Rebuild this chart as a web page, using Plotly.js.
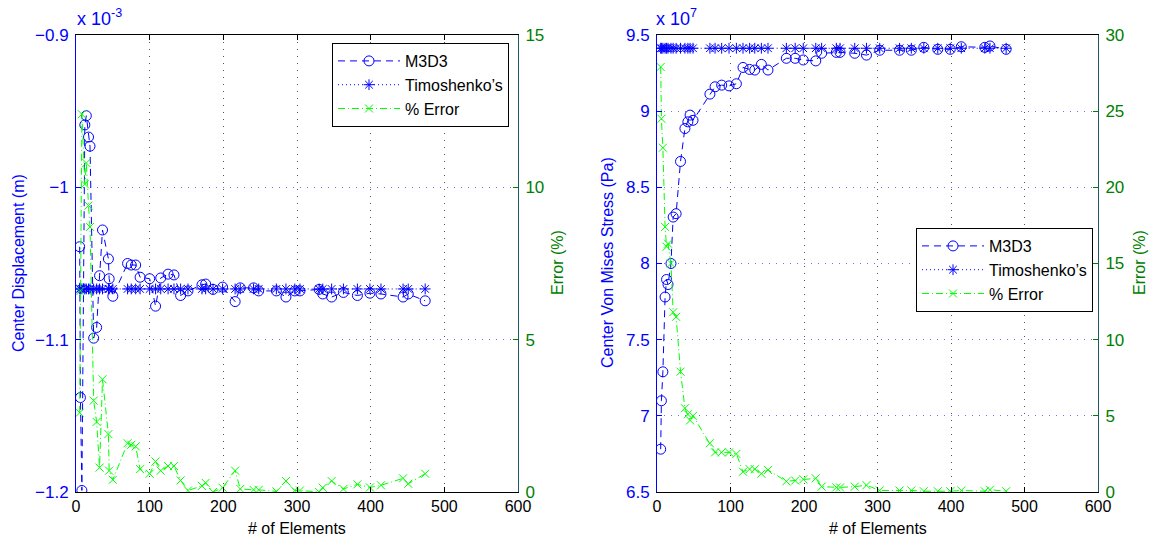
<!DOCTYPE html>
<html>
<head>
<meta charset="utf-8">
<script src="https://cdn.plot.ly/plotly-3.0.1.min.js"></script>
<style>html,body{margin:0;padding:0;background:#fff}#chart{width:1153px;height:542px}</style>
</head>
<body>
<div id="chart"></div>
<script>
// ---- Left panel: center displacement (x 1e-3 m) ----
const leftElems = [5, 6, 8, 12, 14, 17, 19, 24, 28, 32, 36, 44, 45, 50, 70, 75, 81, 87, 100, 108, 115, 125, 133, 142, 152, 171, 176, 186, 199, 216, 223, 241, 248, 272, 285, 297, 304, 330, 335, 347, 363, 382, 399, 414, 444, 451, 474];
const leftM3D3 = [-1.039, -1.138, -1.199, -0.959, -0.953, -0.967, -0.973, -1.099, -1.092, -1.058, -1.028, -1.047, -1.060, -1.0715, -1.050, -1.051, -1.051, -1.059, -1.060, -1.078, -1.0595, -1.057, -1.0575, -1.071, -1.068, -1.064, -1.0635, -1.067, -1.0655, -1.075, -1.066, -1.066, -1.068, -1.068, -1.072, -1.068, -1.068, -1.067, -1.070, -1.072, -1.069, -1.071, -1.0695, -1.070, -1.072, -1.070, -1.0745];
const leftTimo = [-1.0667, -1.0667, -1.0667, -1.0667, -1.0667, -1.0667, -1.0667, -1.0667, -1.0667, -1.0667, -1.0667, -1.0667, -1.0667, -1.0667, -1.0667, -1.0667, -1.0667, -1.0667, -1.0667, -1.0667, -1.0667, -1.0667, -1.0667, -1.0667, -1.0667, -1.0667, -1.0667, -1.0667, -1.0667, -1.0667, -1.0667, -1.0667, -1.0667, -1.0667, -1.0667, -1.0667, -1.0667, -1.0667, -1.0667, -1.0667, -1.0667, -1.0667, -1.0667, -1.0667, -1.0667, -1.0667, -1.0667];
const leftErr = [2.6, 6.6, 12.4, 10.1, 10.8, 9.4, 8.7, 3.0, 2.3, 0.8, 3.7, 1.9, 0.7, 0.4, 1.6, 1.55, 1.5, 0.75, 0.6, 1.0, 0.7, 0.85, 0.85, 0.38, 0.05, 0.2, 0.3, 0.0, 0.14, 0.7, 0.1, 0.07, 0.07, 0.02, 0.36, 0.05, 0.05, 0.0, 0.14, 0.36, 0.1, 0.25, 0.15, 0.22, 0.45, 0.27, 0.6];

// ---- Right panel: center Von Mises stress (x 1e7 Pa) ----
const rightElems = [5, 6, 8, 11, 13, 15, 19, 22, 26, 32, 38, 42, 45, 49, 72, 79, 88, 98, 108, 117, 126, 133, 142, 151, 176, 188, 199, 216, 224, 244, 249, 269, 285, 303, 330, 346, 363, 382, 399, 414, 446, 453, 475];
const rightM3D3 = [6.781, 7.099, 7.289, 7.78, 7.895, 7.862, 8.0, 8.305, 8.327, 8.67, 8.886, 8.93, 8.974, 8.94, 9.112, 9.16, 9.171, 9.166, 9.18, 9.287, 9.274, 9.27, 9.307, 9.27, 9.347, 9.347, 9.336, 9.33, 9.38, 9.386, 9.386, 9.38, 9.368, 9.40, 9.40, 9.40, 9.419, 9.406, 9.406, 9.423, 9.419, 9.428, 9.406];
const rightTimo = [9.413, 9.413, 9.413, 9.413, 9.413, 9.413, 9.413, 9.413, 9.413, 9.413, 9.413, 9.413, 9.413, 9.413, 9.413, 9.413, 9.413, 9.413, 9.413, 9.413, 9.413, 9.413, 9.413, 9.413, 9.413, 9.413, 9.413, 9.413, 9.413, 9.413, 9.413, 9.413, 9.413, 9.413, 9.413, 9.413, 9.413, 9.413, 9.413, 9.413, 9.413, 9.413, 9.413];
const rightErr = [27.9, 24.5, 22.6, 17.4, 16.1, 16.3, 15.0, 11.8, 11.5, 7.9, 5.5, 5.1, 4.7, 5.0, 3.2, 2.6, 2.6, 2.6, 2.5, 1.33, 1.5, 1.5, 1.2, 1.45, 0.7, 0.75, 0.83, 0.9, 0.35, 0.3, 0.3, 0.35, 0.45, 0.1, 0.1, 0.1, 0.05, 0.05, 0.05, 0.1, 0.05, 0.15, 0.05];

const seriesNames = ['M3D3', 'Timoshenko\u2019s', '% Error'];
const xTicks = [0, 100, 200, 300, 400, 500, 600];
const leftYTicks = [-1.2, -1.1, -1, -0.9];
const leftYText = ['\u22121.2', '\u22121.1', '\u22121', '\u22120.9'];
const leftErrTicks = [0, 5, 10, 15];
const rightYTicks = [6.5, 7, 7.5, 8, 8.5, 9, 9.5];
const rightErrTicks = [0, 5, 10, 15, 20, 25, 30];

const FONT = 'Liberation Sans, Arial, Helvetica, sans-serif';
const BLUE = '#0000ff', GREEN = '#00ff00', DGREEN = '#008000', RAXIS = '#1d5a66';
const W = 1153, H = 542;
const px = v => v / W, py = v => (H - v) / H;

function m3d3(x, y, xa, ya, lg) {
  return {x, y, xaxis: xa, yaxis: ya, legend: lg, name: seriesNames[0], type: 'scatter', mode: 'lines+markers',
    line: {color: BLUE, width: 1, dash: '7px,5px'},
    marker: {symbol: 'circle-open', size: 10, color: BLUE, line: {width: 1}}};
}
function timo(x, y, xa, ya, lg) {
  return {x, y, xaxis: xa, yaxis: ya, legend: lg, name: seriesNames[1], type: 'scatter', mode: 'lines+markers',
    line: {color: BLUE, width: 1, dash: '1px,3px'},
    marker: {symbol: 'asterisk-open', size: 9, color: BLUE, line: {width: 1}}};
}
function err(x, y, xa, ya, lg) {
  return {x, y, xaxis: xa, yaxis: ya, legend: lg, name: seriesNames[2], type: 'scatter', mode: 'lines+markers',
    line: {color: GREEN, width: 1, dash: '7px,3px,1px,3px'},
    marker: {symbol: 'x-thin-open', size: 8, color: GREEN, line: {width: 1}}};
}

const data = [
  m3d3(leftElems, leftM3D3, 'x', 'y', 'legend'),
  timo(leftElems, leftTimo, 'x', 'y', 'legend'),
  err(leftElems, leftErr, 'x', 'y2', 'legend'),
  m3d3(rightElems, rightM3D3, 'x2', 'y3', 'legend2'),
  timo(rightElems, rightTimo, 'x2', 'y3', 'legend2'),
  err(rightElems, rightErr, 'x2', 'y4', 'legend2')
];

const yDom = [py(492), py(35)];
function xAxis(dom, anchor) {
  return {domain: dom, anchor, range: [0, 600], tickvals: xTicks, ticks: 'inside', ticklen: 5, tickcolor: '#000',
    showline: true, linecolor: '#000', linewidth: 1, mirror: 'ticks', zeroline: false,
    showgrid: true, gridcolor: '#555', gridwidth: 1, griddash: '1px,6px',
    tickfont: {family: FONT, size: 16, color: '#000'}, fixedrange: true};
}
function yAxis(anchor, range, tv, tt) {
  const a = {domain: yDom, anchor, range, tickvals: tv, ticks: 'inside', ticklen: 5, tickcolor: BLUE,
    showline: true, linecolor: BLUE, linewidth: 1, zeroline: false, ticklabelstandoff: 3,
    showgrid: true, gridcolor: '#7070ff', gridwidth: 1, griddash: '1px,6px',
    tickfont: {family: FONT, size: 17, color: BLUE}, fixedrange: true};
  if (tt) a.ticktext = tt;
  return a;
}
function y2Axis(overlay, anchor, range, tv) {
  return {overlaying: overlay, side: 'right', anchor, range, tickvals: tv, ticks: 'inside', ticklen: 5,
    tickcolor: DGREEN, showline: true, linecolor: RAXIS, linewidth: 1, zeroline: false, showgrid: false,
    ticklabelstandoff: 3, tickfont: {family: FONT, size: 17, color: DGREEN}, fixedrange: true};
}
function legendBox(xr, yt) {
  return {x: px(xr), xanchor: 'right', y: py(yt), yanchor: 'top', bgcolor: '#fff', bordercolor: '#000', borderwidth: 1,
    font: {family: FONT, size: 16, color: '#000'}, itemwidth: 62, tracegroupgap: 0, traceorder: 'normal'};
}
function ann(text, x, y, opts) {
  return Object.assign({text, x: px(x), y: py(y), xref: 'paper', yref: 'paper', showarrow: false,
    xanchor: 'center', yanchor: 'middle', font: {family: FONT, size: 16, color: '#000'}}, opts || {});
}

const layout = {
  width: W, height: H, margin: {l: 0, r: 0, t: 0, b: 0}, paper_bgcolor: '#fff', plot_bgcolor: '#fff',
  showlegend: true,
  xaxis: xAxis([px(76), px(518)], 'y'),
  yaxis: yAxis('x', [-1.2, -0.9], leftYTicks, leftYText),
  yaxis2: y2Axis('y', 'x', [0, 15], leftErrTicks),
  xaxis2: xAxis([px(657), px(1098)], 'y3'),
  yaxis3: yAxis('x2', [6.5, 9.5], rightYTicks),
  yaxis4: y2Axis('y3', 'x2', [0, 30], rightErrTicks),
  legend: legendBox(509, 43),
  legend2: legendBox(1093, 228),
  annotations: [
    ann('Center Displacement (m)', 18, 263, {textangle: -90, font: {family: FONT, size: 16, color: BLUE}}),
    ann('Error (%)', 557, 263, {textangle: -90, font: {family: FONT, size: 16, color: DGREEN}}),
    ann('# of Elements', 297, 528),
    ann('x 10<sup>-3</sup>', 75, 31, {xanchor: 'left', yanchor: 'bottom', font: {family: FONT, size: 18, color: BLUE}}),
    ann('Center Von Mises Stress (Pa)', 607, 263, {textangle: -90, font: {family: FONT, size: 16, color: BLUE}}),
    ann('Error (%)', 1139, 263, {textangle: -90, font: {family: FONT, size: 16, color: DGREEN}}),
    ann('# of Elements', 877.5, 528),
    ann('x 10<sup>7</sup>', 654, 31, {xanchor: 'left', yanchor: 'bottom', font: {family: FONT, size: 18, color: BLUE}})
  ]
};

Plotly.newPlot('chart', data, layout, {staticPlot: true, displayModeBar: false});
</script>
</body>
</html>
